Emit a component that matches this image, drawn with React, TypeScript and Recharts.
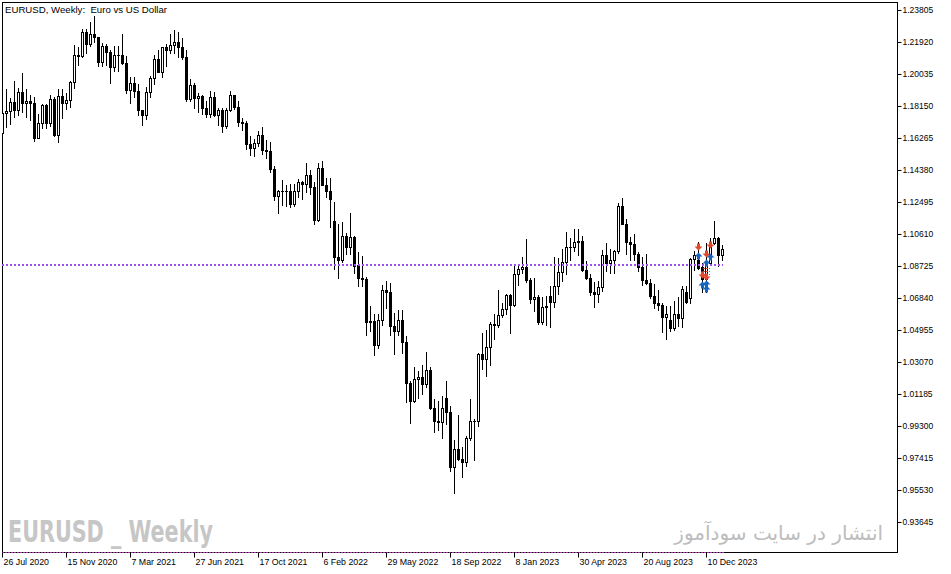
import React from "react";
import { ComposedChart, Bar, Scatter, XAxis, YAxis, ReferenceLine } from "recharts";

// weekly EURUSD candles, [open, high, low, close], one row per week from 26 Jul 2020
const ohlc2020 = [
  [1.1658, 1.1908, 1.1649, 1.1778], [1.1778, 1.1917, 1.1696, 1.1786], [1.1786, 1.1866, 1.1711, 1.1842],
  [1.1842, 1.1966, 1.1753, 1.1795], [1.1795, 1.1922, 1.1762, 1.1903], [1.1903, 1.2011, 1.1781, 1.1838],
  [1.1838, 1.1917, 1.1752, 1.1846], [1.1846, 1.1882, 1.1737, 1.1838], [1.1838, 1.1873, 1.1612, 1.1631],
  [1.1631, 1.1771, 1.1627, 1.1715], [1.1715, 1.1831, 1.1686, 1.1826], [1.1826, 1.1829, 1.1688, 1.1717],
  [1.1717, 1.1881, 1.1703, 1.1860], [1.1860, 1.1870, 1.1640, 1.1647], [1.1647, 1.1920, 1.1603, 1.1876],
  [1.1876, 1.1920, 1.1746, 1.1834], [1.1834, 1.1894, 1.1800, 1.1856], [1.1856, 1.1963, 1.1812, 1.1962],
  [1.1962, 1.2177, 1.1923, 1.2121], [1.2121, 1.2166, 1.2058, 1.2114], [1.2114, 1.2273, 1.2109, 1.2255],
  [1.2255, 1.2272, 1.2129, 1.2185], [1.2185, 1.2310, 1.2170, 1.2240],
];
const ohlc2021 = [
  [1.2240, 1.2349, 1.2192, 1.2222], [1.2222, 1.2222, 1.2055, 1.2080], [1.2080, 1.2190, 1.2054, 1.2170],
  [1.2170, 1.2182, 1.2059, 1.2135], [1.2135, 1.2150, 1.1952, 1.2046], [1.2046, 1.2169, 1.2025, 1.2119],
  [1.2119, 1.2170, 1.2023, 1.2118], [1.2118, 1.2243, 1.2064, 1.2074], [1.2074, 1.2113, 1.1892, 1.1915],
  [1.1915, 1.1990, 1.1836, 1.1952], [1.1952, 1.1989, 1.1873, 1.1905], [1.1905, 1.1945, 1.1762, 1.1795],
  [1.1795, 1.1797, 1.1704, 1.1762], [1.1762, 1.1927, 1.1739, 1.1900], [1.1900, 1.1995, 1.1870, 1.1983],
  [1.1983, 1.2117, 1.1946, 1.2097], [1.2097, 1.2150, 1.2016, 1.2020], [1.2020, 1.2168, 1.1986, 1.2165],
  [1.2165, 1.2181, 1.2051, 1.2145], [1.2145, 1.2245, 1.2130, 1.2180], [1.2180, 1.2266, 1.2133, 1.2194],
  [1.2194, 1.2254, 1.2104, 1.2167], [1.2167, 1.2218, 1.2093, 1.2106], [1.2106, 1.2150, 1.1847, 1.1860],
  [1.1860, 1.1975, 1.1847, 1.1940], [1.1940, 1.1955, 1.1807, 1.1865], [1.1865, 1.1895, 1.1781, 1.1875],
  [1.1875, 1.1880, 1.1772, 1.1808], [1.1808, 1.1850, 1.1752, 1.1770], [1.1770, 1.1909, 1.1755, 1.1870],
  [1.1870, 1.1900, 1.1760, 1.1763], [1.1763, 1.1805, 1.1705, 1.1795], [1.1795, 1.1806, 1.1664, 1.1700],
  [1.1700, 1.1809, 1.1690, 1.1795], [1.1795, 1.1909, 1.1786, 1.1880], [1.1880, 1.1885, 1.1800, 1.1812],
  [1.1812, 1.1848, 1.1701, 1.1725], [1.1725, 1.1750, 1.1675, 1.1720], [1.1720, 1.1730, 1.1563, 1.1595],
  [1.1595, 1.1640, 1.1530, 1.1570], [1.1570, 1.1625, 1.1524, 1.1600], [1.1600, 1.1670, 1.1585, 1.1645],
  [1.1645, 1.1692, 1.1535, 1.1560], [1.1560, 1.1616, 1.1513, 1.1555], [1.1555, 1.1608, 1.1432, 1.1445],
  [1.1445, 1.1464, 1.1264, 1.1290], [1.1290, 1.1325, 1.1186, 1.1317], [1.1317, 1.1383, 1.1235, 1.1315],
  [1.1315, 1.1355, 1.1228, 1.1318], [1.1318, 1.1360, 1.1221, 1.1240], [1.1240, 1.1360, 1.1230, 1.1320],
  [1.1320, 1.1386, 1.1280, 1.1370],
];
const ohlc2022 = [
  [1.1370, 1.1376, 1.1272, 1.1360], [1.1360, 1.1483, 1.1313, 1.1410], [1.1410, 1.1440, 1.1300, 1.1342],
  [1.1342, 1.1370, 1.1121, 1.1147], [1.1147, 1.1483, 1.1140, 1.1450], [1.1450, 1.1495, 1.1375, 1.1350],
  [1.1350, 1.1395, 1.1280, 1.1320], [1.1320, 1.1395, 1.1106, 1.1270], [1.1140, 1.1250, 1.0860, 1.0930],
  [1.0930, 1.1120, 1.0806, 1.0910], [1.0910, 1.1137, 1.0900, 1.1050], [1.1050, 1.1070, 1.0945, 1.0985],
  [1.0985, 1.1185, 1.0945, 1.1045], [1.1045, 1.1055, 1.0837, 1.0875], [1.0880, 1.0955, 1.0757, 1.0805],
  [1.0805, 1.0936, 1.0760, 1.0800], [1.0800, 1.0808, 1.0471, 1.0545], [1.0545, 1.0641, 1.0492, 1.0550],
  [1.0550, 1.0595, 1.0349, 1.0410], [1.0410, 1.0590, 1.0390, 1.0560], [1.0560, 1.0765, 1.0530, 1.0735],
  [1.0735, 1.0787, 1.0630, 1.0720], [1.0720, 1.0775, 1.0470, 1.0520], [1.0520, 1.0601, 1.0359, 1.0495],
  [1.0495, 1.0615, 1.0470, 1.0555], [1.0555, 1.0615, 1.0365, 1.0430], [1.0430, 1.0465, 1.0072, 1.0185],
  [1.0185, 1.0200, 0.9952, 1.0082], [1.0082, 1.0278, 1.0075, 1.0212], [1.0212, 1.0258, 1.0097, 1.0220],
  [1.0220, 1.0293, 1.0122, 1.0180], [1.0180, 1.0368, 1.0160, 1.0260], [1.0260, 1.0280, 1.0033, 1.0040],
  [1.0040, 1.0090, 0.9900, 0.9965], [0.9965, 1.0079, 0.9910, 0.9955], [0.9955, 1.0112, 0.9864, 1.0040],
  [1.0100, 1.0198, 0.9945, 1.0015], [1.0015, 1.0050, 0.9668, 0.9690], [0.9690, 0.9853, 0.9536, 0.9800],
  [0.9800, 0.9999, 0.9730, 0.9740], [0.9740, 0.9809, 0.9631, 0.9720], [0.9720, 0.9875, 0.9700, 0.9860],
  [0.9860, 1.0093, 0.9850, 0.9965], [0.9965, 0.9977, 0.9730, 0.9960], [0.9960, 1.0363, 0.9935, 1.0355],
  [1.0355, 1.0481, 1.0270, 1.0325], [1.0325, 1.0497, 1.0225, 1.0400], [1.0400, 1.0545, 1.0290, 1.0535],
  [1.0535, 1.0595, 1.0443, 1.0530], [1.0530, 1.0736, 1.0515, 1.0585], [1.0585, 1.0660, 1.0575, 1.0620],
  [1.0620, 1.0713, 1.0595, 1.0705],
];
const ohlc2023 = [
  [1.0705, 1.0712, 1.0482, 1.0645], [1.0645, 1.0875, 1.0640, 1.0830], [1.0830, 1.0887, 1.0765, 1.0855],
  [1.0855, 1.0929, 1.0836, 1.0870], [1.0870, 1.1033, 1.0780, 1.0795], [1.0795, 1.0804, 1.0655, 1.0680],
  [1.0680, 1.0805, 1.0610, 1.0695], [1.0695, 1.0705, 1.0533, 1.0545], [1.0545, 1.0692, 1.0533, 1.0635],
  [1.0635, 1.0700, 1.0525, 1.0640], [1.0700, 1.0760, 1.0516, 1.0665], [1.0665, 1.0930, 1.0635, 1.0760],
  [1.0760, 1.0925, 1.0710, 1.0840], [1.0840, 1.0973, 1.0790, 1.0900], [1.0900, 1.1075, 1.0830, 1.0990],
  [1.0990, 1.1043, 1.0910, 1.0990], [1.0990, 1.1095, 1.0965, 1.1015], [1.1015, 1.1092, 1.0940, 1.1020],
  [1.1020, 1.1054, 1.0845, 1.0850], [1.0850, 1.0905, 1.0800, 1.0805], [1.0805, 1.0830, 1.0705, 1.0720],
  [1.0720, 1.0780, 1.0635, 1.0710], [1.0710, 1.0785, 1.0665, 1.0750], [1.0750, 1.0970, 1.0730, 1.0940],
  [1.0940, 1.1012, 1.0845, 1.0895], [1.0895, 1.0975, 1.0835, 1.0910], [1.0910, 1.0970, 1.0833, 1.0965],
  [1.0965, 1.1245, 1.0950, 1.1230], [1.1230, 1.1276, 1.1120, 1.1125], [1.1125, 1.1150, 1.0945, 1.1015],
  [1.1015, 1.1045, 1.0912, 1.1005], [1.1005, 1.1065, 1.0910, 1.0945], [1.0945, 1.0960, 1.0845, 1.0870],
  [1.0870, 1.0930, 1.0765, 1.0795], [1.0795, 1.0945, 1.0770, 1.0775], [1.0775, 1.0800, 1.0685, 1.0700],
  [1.0700, 1.0770, 1.0630, 1.0655], [1.0655, 1.0735, 1.0615, 1.0645], [1.0645, 1.0660, 1.0488, 1.0575],
  [1.0575, 1.0640, 1.0448, 1.0590], [1.0555, 1.0640, 1.0495, 1.0510], [1.0510, 1.0670, 1.0500, 1.0595],
  [1.0595, 1.0695, 1.0520, 1.0570], [1.0570, 1.0757, 1.0517, 1.0740], [1.0725, 1.0755, 1.0655, 1.0665],
  [1.0685, 1.0925, 1.0660, 1.0915], [1.0915, 1.0965, 1.0850, 1.0940], [1.0910, 1.1017, 1.0860, 1.0865],
  [1.0870, 1.0895, 1.0723, 1.0800], [1.0800, 1.1009, 1.0724, 1.0895], [1.0895, 1.1040, 1.0885, 1.1010],
  [1.1010, 1.1140, 1.1005, 1.1040], [1.1040, 1.1045, 1.0875, 1.0940],
];
const ohlc2024 = [
  [1.0940, 1.0998, 1.0910, 1.0975],
];

// trade arrows drawn on the last weeks (week index, price)
const sellArrows = [
  { i: 174, p: 1.0987 }, { i: 176, p: 1.0946 }, { i: 177, p: 1.0999 },
  { i: 175, p: 1.0822 }, { i: 176, p: 1.081 },
];
const buyArrows = [
  { i: 174, p: 1.0934 }, { i: 176, p: 1.0891 }, { i: 177, p: 1.0927 },
  { i: 175, p: 1.0763 }, { i: 176, p: 1.0769 }, { i: 176, p: 1.0738 },
];
const stopMarks = [{ i: 176, p: 1.0846 }];

const levelPrice = 1.08813;

const dateLabels = [
  "26 Jul 2020", "15 Nov 2020", "7 Mar 2021", "27 Jun 2021", "17 Oct 2021", "6 Feb 2022",
  "29 May 2022", "18 Sep 2022", "8 Jan 2023", "30 Apr 2023", "20 Aug 2023", "10 Dec 2023",
];
const priceTicks = [
  1.23805, 1.2192, 1.20035, 1.1815, 1.16265, 1.1438, 1.12495, 1.1061, 1.08725,
  1.0684, 1.04955, 1.0307, 1.01185, 0.993, 0.97415, 0.9553, 0.93645,
];

const candles = [...ohlc2020, ...ohlc2021, ...ohlc2022, ...ohlc2023, ...ohlc2024].map(
  ([o, h, l, c], i) => ({ i, o, h, l, c, range: [l, h] })
);
const lastIdx = candles.length - 1;

const Y_MIN = 0.918776;
const Y_MAX = 1.243057;
const FONT = "'Liberation Sans', Arial, sans-serif";

function Candle(props: any) {
  let { x, y, width, height, payload } = props;
  if (height < 0) { y += height; height = -height; }
  const { o, h, l, c } = payload;
  const k = h > l ? height / (h - l) : 0;
  const py = (p: number) => y + (h - p) * k;
  const col = Math.floor(x + width / 2 + 0.001);
  const mid = col + 0.5;
  const top = Math.round(py(Math.max(o, c)));
  const bot = Math.round(py(Math.min(o, c)));
  const wt = Math.round(py(h));
  const wb = Math.round(py(l));
  const bull = c >= o;
  return (
    <g>
      <line x1={mid} x2={mid} y1={wt} y2={wb + 1} stroke="#000" strokeWidth={1} />
      {bot - top < 1 ? (
        <line x1={col - 1} x2={col + 2} y1={top + 0.5} y2={top + 0.5} stroke="#000" strokeWidth={1} />
      ) : bull ? (
        <rect x={col - 0.5} y={top + 0.5} width={2} height={bot - top} fill="#fff" stroke="#000" strokeWidth={1} />
      ) : (
        <rect x={col - 1} y={top} width={3} height={bot - top + 1} fill="#000" />
      )}
    </g>
  );
}

function Arrow({ cx, cy, up, color }: any) {
  const x = Math.floor(cx) + 0.5;
  const y = Math.round(cy);
  const s = up ? -1 : 1;
  const pts = [
    [x - 1.5, y - 3.5 * s], [x + 1.5, y - 3.5 * s], [x + 1.5, y - 0.5 * s], [x + 4, y - 0.5 * s],
    [x, y + 3.5 * s], [x - 4, y - 0.5 * s], [x - 1.5, y - 0.5 * s],
  ].map((p) => p.join(",")).join(" ");
  return <polygon points={pts} fill={color} />;
}

function StopMark({ cx, cy }: any) {
  const x = Math.floor(cx);
  const y = Math.round(cy);
  return (
    <g stroke="#e2462b" strokeWidth={1} strokeDasharray="2 1">
      <line x1={x - 3} x2={x + 4} y1={y - 2.5} y2={y - 2.5} />
      <line x1={x - 3} x2={x + 4} y1={y + 0.5} y2={y + 0.5} />
      <line x1={x - 3} x2={x + 4} y1={y + 3.5} y2={y + 3.5} />
    </g>
  );
}

function DateTick({ x, payload }: any) {
  const label = dateLabels[Math.round(payload.value / 16)];
  return (
    <text x={x + 1} y={565} fontSize={8.8} fontFamily={FONT} fill="#000" textAnchor="start">
      {label}
    </text>
  );
}

function PriceTick({ y, payload }: any) {
  return (
    <text x={902.5} y={y + 3} fontSize={8.5} fontFamily={FONT} fill="#000" textAnchor="start">
      {payload.value.toFixed(5)}
    </text>
  );
}

export default function App() {
  return (
    <div style={{ position: "absolute", left: 0, top: 0, width: 951, height: 574, background: "#fff" }}>
      <svg width={951} height={574} style={{ position: "absolute", left: 0, top: 0 }}>
        <rect x={2.5} y={2.5} width={895} height={550} fill="none" stroke="#000" strokeWidth={1} />
        <text x={8} y={542} fontSize={31} fontWeight="bold" fontFamily="'Liberation Sans Narrow', 'DejaVu Sans Condensed', sans-serif"
          fill="#c6c6c6" textLength={205} lengthAdjust="spacingAndGlyphs" style={{ whiteSpace: "pre" }}>
          EURUSD _ Weekly
        </text>
        <text x={883} y={540} fontSize={20} fontFamily="'DejaVu Sans', sans-serif" fill="#bdbdbd" textAnchor="end">
          انتشار در سایت سودآموز
        </text>
        <text x={5} y={13} fontSize={8.8} fontFamily={FONT} fill="#000" textLength={162}
          lengthAdjust="spacingAndGlyphs" style={{ whiteSpace: "pre" }}>
          EURUSD, Weekly:  Euro vs US Dollar
        </text>
      </svg>
      <div style={{ position: "absolute", left: 0, top: 0 }}>
        <ComposedChart width={951} height={574} data={candles}
          margin={{ top: 2, right: 0, bottom: 0, left: 2 }}>
          <XAxis dataKey="i" type="number" domain={[-0.125, 223.75]} allowDataOverflow
            ticks={dateLabels.map((_, k) => k * 16)} tick={<DateTick />} tickSize={5}
            axisLine={false} tickLine={{ stroke: "#000" }} height={21.5} interval={0} />
          <YAxis orientation="right" type="number" domain={[Y_MIN, Y_MAX]} allowDataOverflow
            ticks={priceTicks} tick={<PriceTick />} tickSize={4} width={53.5}
            axisLine={false} tickLine={{ stroke: "#000" }} interval={0} />
          <ReferenceLine segment={[{ x: -0.125, y: levelPrice }, { x: lastIdx + 0.125, y: levelPrice }]}
            stroke="#9b50f0" strokeWidth={2} strokeDasharray="2 2" ifOverflow="visible" />
          <ReferenceLine segment={[{ x: -0.125, y: Y_MIN }, { x: lastIdx + 0.625, y: Y_MIN }]}
            stroke="#a33ca3" strokeWidth={1} strokeDasharray="2 1" ifOverflow="visible" />
          <Bar dataKey="range" barSize={3} shape={<Candle />} isAnimationActive={false} />
          <Scatter data={sellArrows} dataKey="p" isAnimationActive={false}
            shape={(p: any) => <Arrow {...p} up={false} color="#e2462b" />} />
          <Scatter data={buyArrows} dataKey="p" isAnimationActive={false}
            shape={(p: any) => <Arrow {...p} up={true} color="#1565c0" />} />
          <Scatter data={stopMarks} dataKey="p" isAnimationActive={false}
            shape={(p: any) => <StopMark {...p} />} />
        </ComposedChart>
      </div>
    </div>
  );
}
